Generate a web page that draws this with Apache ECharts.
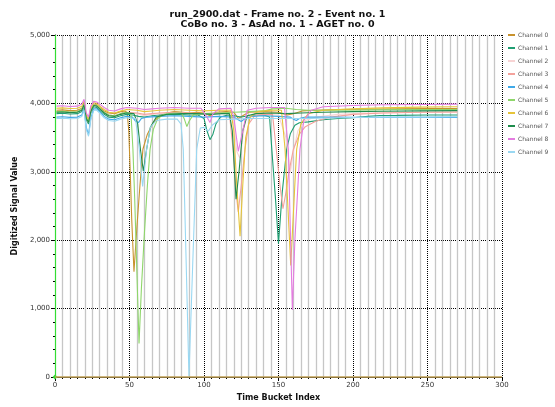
<!DOCTYPE html>
<html>
<head>
<meta charset="utf-8">
<script src="https://cdn.jsdelivr.net/npm/echarts@6/dist/echarts.min.js"></script>
<style>
  html, body { margin: 0; padding: 0; background: #fff; }
  #chart { width: 555px; height: 407px; }
</style>
</head>
<body>
<div id="chart"></div>
<script>
// channel traces, [time bucket, value]
const ch0 = [[1,3900],[5,3905],[10,3895],[15,3900],[18,3930],[19.5,4000],[21,3800],[22.5,3740],[24,3900],[26,3990],[28,3980],[30,3940],[33,3890],[36,3860],[40,3850],[44,3880],[47,3890],[48.5,3860],[49.5,3600],[50.5,3000],[51.5,2300],[53,1540],[55,2200],[57,2800],[59,3330],[62,3550],[66,3720],[70,3820],[75,3860],[80,3880],[86,3870],[90,3860],[95,3870],[100,3860],[104,3820],[108,3870],[115,3880],[120,3870],[123,3780],[126,3820],[130,3870],[140,3880],[150,3870],[156,3830],[160,3850],[166,3890],[175,3900],[190,3910],[210,3915],[230,3920],[250,3925],[270,3925]];
const ch1 = [[1,3850],[5,3855],[10,3845],[15,3850],[18,3880],[19.5,3960],[21,3760],[22.5,3700],[24,3860],[26,3950],[28,3940],[30,3900],[33,3840],[36,3800],[40,3790],[44,3820],[48,3840],[52,3830],[56,3810],[60,3800],[65,3820],[70,3830],[80,3840],[90,3830],[96,3830],[100,3780],[102,3600],[104,3470],[106,3550],[108,3700],[111,3800],[116,3830],[120,3820],[125,3800],[130,3820],[140,3830],[144,3800],[145.5,3330],[148,2600],[150,1950],[152.5,2700],[155.5,3330],[158,3560],[161,3680],[164,3716],[170,3730],[180,3760],[190,3780],[200,3790],[210,3810],[218,3823],[230,3825],[250,3830],[270,3830]];
const ch2 = [[1,3870],[5,3875],[10,3865],[15,3870],[18,3900],[19.5,3980],[21,3780],[22.5,3720],[24,3880],[26,3970],[28,3960],[30,3920],[33,3860],[36,3820],[40,3810],[44,3840],[48,3860],[55,3850],[60,3820],[65,3840],[70,3850],[80,3860],[90,3850],[100,3840],[110,3850],[118,3850],[120,3700],[122,3300],[124,3200],[126,3500],[128,3780],[132,3830],[140,3840],[150,3830],[155,3500],[158,3000],[160,3300],[163,3600],[168,3750],[175,3800],[190,3840],[210,3860],[230,3865],[250,3870],[270,3870]];
const ch3 = [[1,3880],[5,3885],[10,3875],[15,3880],[18,3910],[19.5,3990],[21,3790],[22.5,3730],[24,3890],[26,3980],[28,3970],[30,3930],[33,3870],[36,3830],[40,3820],[44,3850],[48,3870],[55,3860],[60,3840],[65,3850],[70,3860],[80,3870],[90,3860],[100,3850],[110,3860],[117,3860],[119.5,3330],[121.5,2700],[123,2410],[125,2800],[127.5,3330],[130,3700],[134,3820],[140,3840],[146,3840],[148.5,3330],[151,2800],[153,2460],[155,2700],[157,3000],[160,3330],[164,3550],[168,3660],[175,3740],[185,3800],[200,3840],[220,3860],[245,3870],[270,3875]];
const ch4 = [[1,3800],[5,3805],[10,3795],[15,3800],[18,3830],[19.5,3920],[21,3650],[22.5,3540],[24,3780],[26,3920],[28,3920],[30,3880],[33,3810],[36,3770],[40,3760],[44,3790],[48,3810],[52,3800],[54,3740],[56,3720],[58,3780],[62,3800],[70,3810],[80,3820],[90,3810],[100,3800],[110,3810],[120,3800],[123,3760],[125,3735],[127,3770],[132,3810],[140,3820],[150,3810],[158,3800],[160,3770],[162,3750],[164,3780],[168,3800],[180,3800],[200,3795],[220,3795],[245,3795],[270,3795]];
const ch5 = [[1,3880],[5,3885],[10,3875],[15,3880],[18,3910],[19.5,3990],[21,3790],[22.5,3730],[24,3890],[26,3980],[28,3970],[30,3930],[33,3870],[36,3830],[40,3820],[44,3850],[48,3870],[51,3850],[52.3,3330],[53.5,2600],[55,1500],[56.4,490],[58,1300],[60,2100],[62,2800],[63.8,3330],[66,3620],[69,3780],[73,3840],[80,3860],[85,3860],[87,3760],[88.5,3660],[90,3740],[93,3840],[100,3850],[110,3860],[120,3870],[130,3880],[140,3890],[146,3920],[155,3930],[162,3910],[170,3900],[190,3900],[210,3905],[230,3910],[250,3910],[270,3910]];
const ch6 = [[1,3930],[5,3935],[10,3925],[15,3930],[18,3960],[19.5,4030],[21,3830],[22.5,3770],[24,3930],[26,4010],[28,4000],[30,3960],[33,3910],[36,3870],[40,3860],[44,3890],[48,3910],[55,3900],[60,3880],[65,3890],[70,3900],[80,3910],[90,3900],[100,3890],[110,3900],[118,3900],[120,3600],[122,2800],[124.2,2060],[126,2800],[128,3500],[131,3800],[136,3880],[145,3900],[152,3900],[154.4,3330],[156.5,2400],[158.2,1630],[160,2400],[162.2,3330],[165,3700],[170,3850],[180,3900],[200,3920],[220,3935],[245,3945],[270,3950]];
const ch7 = [[1,3870],[5,3875],[10,3865],[15,3870],[18,3900],[19.5,3980],[21,3780],[22.5,3720],[24,3880],[26,3970],[28,3960],[30,3920],[33,3860],[36,3820],[40,3810],[44,3840],[48,3860],[53,3850],[55.5,3700],[57.5,3300],[59.3,3010],[61.5,3330],[64,3650],[68,3800],[75,3840],[85,3850],[95,3850],[105,3840],[112,3850],[117,3850],[119,3600],[121.5,2600],[123.5,3000],[126,3600],[129,3820],[135,3850],[145,3860],[155,3850],[165,3860],[180,3870],[200,3880],[220,3885],[245,3890],[270,3895]];
const ch8 = [[1,3960],[5,3965],[10,3955],[15,3960],[18,3990],[19.5,4060],[21,3860],[22.5,3800],[24,3960],[26,4030],[28,4020],[30,3990],[33,3940],[36,3900],[40,3890],[44,3920],[48,3940],[55,3930],[60,3910],[65,3920],[70,3930],[80,3940],[90,3930],[98,3930],[102,3800],[104,3720],[106,3850],[110,3920],[118,3930],[120,3800],[123,3300],[126,3600],[129,3900],[135,3930],[145,3940],[154,3940],[156.6,3330],[158,2100],[159.3,980],[161,2000],[164.4,3330],[167,3750],[172,3900],[180,3950],[200,3970],[220,3980],[245,3985],[270,3990]];
const ch9 = [[1,3780],[5,3785],[10,3775],[15,3780],[18,3810],[19.5,3900],[21,3620],[22.5,3520],[24,3760],[26,3900],[28,3900],[30,3860],[33,3790],[36,3750],[40,3740],[44,3770],[48,3790],[54,3780],[56.6,3330],[58.8,2786],[61.5,3330],[64,3650],[68,3750],[75,3770],[82,3770],[84.5,3700],[86.1,3330],[88,1700],[89.9,10],[92.5,1700],[95.1,3330],[97.5,3640],[100,3650],[102.9,3594],[105.5,3680],[110,3760],[120,3770],[130,3780],[150,3780],[170,3780],[190,3790],[220,3800],[245,3800],[270,3805]];

const channelNames = ['Channel 0','Channel 1','Channel 2','Channel 3','Channel 4','Channel 5','Channel 6','Channel 7','Channel 8','Channel 9'];
const channelData = [ch0, ch1, ch2, ch3, ch4, ch5, ch6, ch7, ch8, ch9];
const colors = ['#c8922e','#1f9e72','#f8d4d4','#f4a29c','#3fa9e8','#8ed66a','#e6c43a','#1e8c4c','#e47ce0','#9ad8f2'];

const font = 'DejaVu Sans';

function fmt(v) {
  if (v >= 1000) return Math.floor(v / 1000) + ',' + String(v % 1000).padStart(3, '0');
  return String(v);
}

const series = channelData.map((d, i) => ({
  name: channelNames[i],
  type: 'line',
  data: d,
  showSymbol: false,
  lineStyle: { width: 1.1, color: colors[i] },
  itemStyle: { color: colors[i] },
  z: 3
}));

// baseline / origin lines
series.push({
  name: 'origin',
  type: 'line',
  data: [[0, 0]],
  symbol: 'diamond',
  symbolSize: 5,
  itemStyle: { color: '#33dd33' },
  z: 4,
  markLine: {
    silent: true,
    symbol: ['none', 'none'],
    label: { show: false },
    animation: false,
    data: [
      { xAxis: 0, lineStyle: { color: '#33dd33', width: 1.2, type: 'solid' } },
      { yAxis: 0, lineStyle: { color: '#bf9f55', width: 1.5, type: 'solid' } }
    ]
  }
});

const chart = echarts.init(document.getElementById('chart'));
chart.setOption({
  animation: false,
  color: colors,
  title: {
    text: 'run_2900.dat - Frame no. 2 - Event no. 1\nCoBo no. 3 - AsAd no. 1 - AGET no. 0',
    left: 'center',
    top: 4,
    textStyle: { fontFamily: font, fontSize: 9.5, fontWeight: 'bold', color: '#111', lineHeight: 10.5 }
  },
  legend: {
    data: channelNames,
    orient: 'vertical',
    left: 508,
    top: 32,
    itemWidth: 7,
    itemHeight: 2,
    icon: 'rect',
    itemGap: 7,
    padding: 0,
    textStyle: { fontFamily: font, fontSize: 6, color: '#555', padding: [0, 0, 0, -2] }
  },
  grid: { left: 55, right: 53, top: 35, bottom: 28 },
  xAxis: {
    type: 'value',
    min: 0,
    max: 300,
    interval: 50,
    name: 'Time Bucket Index',
    nameLocation: 'middle',
    nameGap: 17,
    nameTextStyle: { fontFamily: font, fontSize: 8, fontWeight: 'bold', color: '#111' },
    axisLine: { lineStyle: { color: '#000', width: 1 } },
    axisTick: { length: 4, lineStyle: { color: '#000' } },
    minorTick: { show: true, splitNumber: 10, length: 2, lineStyle: { color: '#000' } },
    axisLabel: { fontFamily: font, fontSize: 7, color: '#333', margin: 5 },
    splitLine: { lineStyle: { color: '#000', type: 'dotted', width: 1 } },
    minorSplitLine: { show: true, lineStyle: { color: '#c6c6c6', width: 1.3 } }
  },
  yAxis: {
    type: 'value',
    min: 0,
    max: 5000,
    interval: 1000,
    name: 'Digitized Signal Value',
    nameLocation: 'middle',
    nameGap: 36,
    nameTextStyle: { fontFamily: font, fontSize: 8, fontWeight: 'bold', color: '#111' },
    axisLine: { show: true, lineStyle: { color: '#000', width: 1 } },
    axisTick: { show: true, length: 4, lineStyle: { color: '#000' } },
    minorTick: { show: true, splitNumber: 5, length: 2, lineStyle: { color: '#000' } },
    axisLabel: { fontFamily: font, fontSize: 7, color: '#333', margin: 5, formatter: fmt },
    splitLine: { lineStyle: { color: '#000', type: 'dotted', width: 1 } }
  },
  series: series
});
</script>
</body>
</html>
